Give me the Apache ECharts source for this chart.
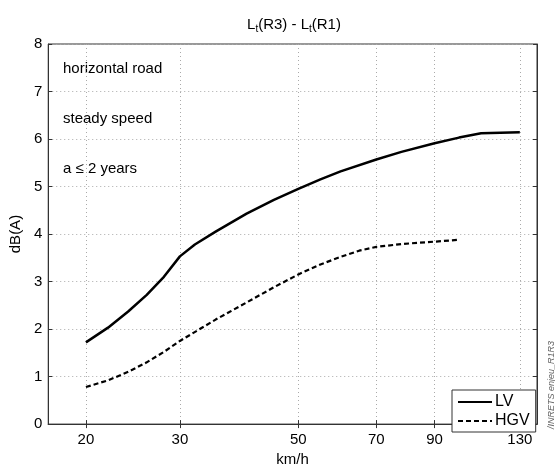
<!DOCTYPE html>
<html>
<head>
<meta charset="utf-8">
<script src="https://cdn.jsdelivr.net/npm/echarts@6/dist/echarts.min.js"></script>
<style>
  html, body { margin: 0; padding: 0; background: #fff; }
  #chart { width: 555px; height: 472px; }
</style>
</head>
<body>
<div id="chart"></div>
<script>
// speeds (km/h)
var speedTicks = [20, 30, 50, 70, 90, 130];

// LV curve
var lvSpeed = [20, 22, 24, 26, 28, 30, 32, 35, 40, 45, 50, 55, 60, 70, 78, 90, 100, 110, 130];
var lvLevel = [1.72, 2.03, 2.37, 2.72, 3.1, 3.53, 3.78, 4.05, 4.43, 4.72, 4.95, 5.15, 5.32, 5.57, 5.73, 5.91, 6.03, 6.12, 6.14];

// HGV curve
var hgvSpeed = [20, 22, 24, 26, 28, 30, 35, 40, 45, 50, 55, 60, 65, 70, 78, 90, 100];
var hgvLevel = [0.78, 0.92, 1.1, 1.3, 1.52, 1.75, 2.2, 2.56, 2.88, 3.15, 3.36, 3.52, 3.65, 3.73, 3.79, 3.84, 3.88];

var notes = ["horizontal road", "steady speed", "a \u2264 2 years"];

function pairs(xs, ys) {
  return xs.map(function (x, i) { return [x, ys[i]]; });
}

var font = "'Liberation Sans', Arial, sans-serif";
var myChart = echarts.init(document.getElementById("chart"));

myChart.setOption({
  animation: false,
  backgroundColor: "#fff",
  textStyle: { fontFamily: font },
  title: {
    text: "{n|L}{s|t}{n|(R3) - L}{s|t}{n|(R1)}",
    left: 289,
    textAlign: "center",
    top: 10,
    textStyle: {
      fontWeight: "normal",
      rich: {
        n: { fontSize: 15, fontFamily: font, fontWeight: "normal", color: "#000" },
        s: { fontSize: 10, fontFamily: font, fontWeight: "normal", color: "#000", padding: [9, 0, 0, 0] }
      }
    }
  },
  grid: { left: 41, right: 18, top: 44, bottom: 36, show: true, borderColor: "#333", borderWidth: 1 },
  legend: {
    orient: "vertical",
    left: 452,
    top: 390,
    padding: [4, 6, 3, 5],
    itemGap: 3,
    itemWidth: 34,
    itemHeight: 14,
    borderColor: "#333",
    borderWidth: 1,
    borderRadius: 0,
    backgroundColor: "#fff",
    itemStyle: { opacity: 0 },
    textStyle: { fontSize: 16, fontFamily: font, color: "#000", padding: [0, 0, 0, -2] },
    data: ["LV", "HGV"]
  },
  xAxis: [
    {
      type: "log",
      min: 17,
      max: 140,
      name: "km/h",
      nameLocation: "middle",
      nameGap: 22,
      nameTextStyle: { fontSize: 15, color: "#000" },
      axisLine: { show: true, lineStyle: { color: "#333" } },
      axisTick: { inside: true, length: 4, customValues: speedTicks, lineStyle: { color: "#333" } },
      axisLabel: { customValues: speedTicks, fontSize: 15, color: "#000", margin: 8 },
      splitLine: { show: true, lineStyle: { type: [1, 3], color: "#aaa" } },
      minorTick: { show: false }
    },
    {
      type: "log",
      position: "top",
      min: 17,
      max: 140,
      axisLine: { show: true, lineStyle: { color: "#333" } },
      axisTick: { inside: true, length: 4, customValues: speedTicks, lineStyle: { color: "#333" } },
      axisLabel: { show: false },
      splitLine: { show: false }
    }
  ],
  yAxis: [
    {
      type: "value",
      min: 0,
      max: 8,
      interval: 1,
      name: "dB(A)",
      nameLocation: "middle",
      nameGap: 22,
      nameTextStyle: { fontSize: 15, color: "#000" },
      axisLine: { show: true, lineStyle: { color: "#333" } },
      axisTick: { show: true, inside: true, length: 4, lineStyle: { color: "#333" } },
      axisLabel: { fontSize: 15, color: "#000", margin: 6 },
      splitLine: { show: true, lineStyle: { type: [1, 3], color: "#aaa" } }
    },
    {
      type: "value",
      position: "right",
      min: 0,
      max: 8,
      interval: 1,
      axisLine: { show: true, lineStyle: { color: "#333" } },
      axisTick: { show: true, inside: true, length: 4, lineStyle: { color: "#333" } },
      axisLabel: { show: false },
      splitLine: { show: false }
    }
  ],
  graphic: [
    { type: "text", left: 63, top: 61, style: { text: notes[0], font: "15px " + font, fill: "#000" } },
    { type: "text", left: 63, top: 111, style: { text: notes[1], font: "15px " + font, fill: "#000" } },
    { type: "text", left: 63, top: 161, style: { text: notes[2], font: "15px " + font, fill: "#000" } },
    {
      type: "text",
      x: 551,
      y: 385,
      rotation: Math.PI / 2,
      style: { text: "/INRETS enjeu_R1R3", font: "italic 9px " + font, fill: "#666", align: "center", verticalAlign: "middle" }
    }
  ],
  series: [
    {
      name: "LV",
      type: "line",
      data: pairs(lvSpeed, lvLevel),
      showSymbol: false,
      symbol: "none",
      lineStyle: { color: "#000", width: 2.5 },
      itemStyle: { color: "#000" }
    },
    {
      name: "HGV",
      type: "line",
      data: pairs(hgvSpeed, hgvLevel),
      showSymbol: false,
      symbol: "none",
      lineStyle: { color: "#000", width: 2.2, type: [5, 3] },
      itemStyle: { color: "#000" }
    }
  ]
});
</script>
</body>
</html>
